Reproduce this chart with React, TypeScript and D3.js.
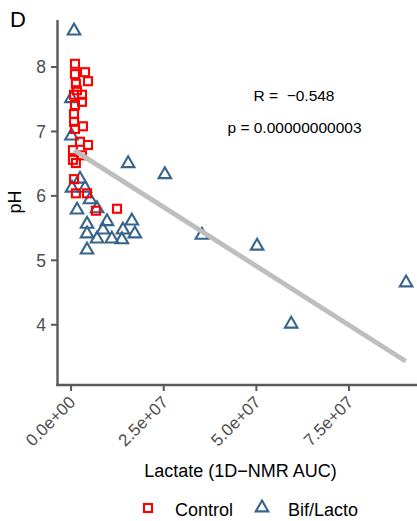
import React from "react";
import * as d3 from "d3";

// Control group (red squares): lactate AUC and pH
const controlLactate = [1.05e6, 3.76e6, 1.05e6, 4.57e6, 1.3e6, 1.6e6, 2.95e6, 0.8e6, 1.05e6, 2.95e6, 0.8e6, 0.8e6, 3.2e6, 1.05e6, 2.4e6, 4.57e6, 0.5e6, 2.95e6, 0.5e6, 1.3e6, 0.8e6, 1.3e6, 4.3e6, 6.7e6, 12.4e6];
const controlPH = [8.05, 7.92, 7.89, 7.78, 7.74, 7.64, 7.57, 7.57, 7.41, 7.46, 7.27, 7.15, 7.08, 7.04, 6.84, 6.79, 6.71, 6.63, 6.56, 6.51, 6.26, 6.04, 6.04, 5.77, 5.8];

// Bif/Lacto group (blue triangles)
const bifLactate = [0.79e6, 0.1e6, 0.1e6, 0.25e6, 2.4e6, 3.76e6, 5.1e6, 1.6e6, 7.0e6, 4.3e6, 9.7e6, 4.3e6, 8.6e6, 7.0e6, 11.0e6, 13.7e6, 14.0e6, 16.4e6, 17.2e6, 4.3e6, 15.4e6, 25.3e6, 35.3e6, 50.2e6, 59.4e6, 90.4e6];
const bifPH = [8.59, 7.54, 6.96, 6.15, 6.29, 6.15, 5.97, 5.81, 5.83, 5.59, 5.63, 5.44, 5.5, 5.36, 5.36, 5.35, 5.5, 5.64, 5.44, 5.19, 6.53, 6.36, 5.42, 5.25, 4.04, 4.68];

// Linear fit
const fitIntercept = 6.74;
const fitSlope = -3.66e-8;
const fitRange = [0.8e6, 90.3e6];

const xTicks = [0, 2.5e7, 5e7, 7.5e7];
const xTickLabels = ["0.0e+00", "2.5e+07", "5.0e+07", "7.5e+07"];
const yTicks = [4, 5, 6, 7, 8];
const legendLabels = ["Control", "Bif/Lacto"];

const W = 417;
const H = 521;
const FONT = "'Liberation Sans', Arial, Helvetica, sans-serif";
const AXIS = "#595959";
const RED = "#FF0000";
const BLUE = "#36648B";

export default function App() {
  const x = d3.scaleLinear().domain([-3.8e6, 9.2e7]).range([57, 412]);
  const y = d3.scaleLinear().domain([3.065, 8.73]).range([385, 20]);

  const sq = 8;
  const ts = 12.5;
  const th = (ts * Math.sqrt(3)) / 2;
  const triPath = (cx: number, cy: number) =>
    `M${cx},${cy - th / 2}L${cx + ts / 2},${cy + th / 2}L${cx - ts / 2},${cy + th / 2}Z`;

  const line = d3
    .line<number>()
    .x((d) => x(d))
    .y((d) => y(fitIntercept + fitSlope * d));

  return (
    <svg width={W} height={H} style={{ position: "absolute", left: 0, top: 0, background: "#fff" }} fontFamily={FONT}>
      <rect width={W} height={H} fill="#fff" />
      <text x={10} y={27} fontSize={22} fill="#000">D</text>

      {/* triangles */}
      {bifLactate.map((d, i) => (
        <path key={"t" + i} d={triPath(x(d), y(bifPH[i]))} fill="none" stroke={BLUE} strokeWidth={2.1} />
      ))}
      {/* squares */}
      {controlLactate.map((d, i) => (
        <rect key={"s" + i} x={x(d) - sq / 2} y={y(controlPH[i]) - sq / 2} width={sq} height={sq} fill="none" stroke={RED} strokeWidth={2.1} />
      ))}
      {/* fit */}
      <path d={line(fitRange) || ""} fill="none" stroke="#BEBEBE" strokeWidth={4.8} />

      {/* annotations */}
      <text x={294} y={101} fontSize={15.5} textAnchor="middle" fill="#000">{"R =\u00A0 −0.548"}</text>
      <text x={294.5} y={133} fontSize={15.5} textAnchor="middle" fill="#000">p = 0.00000000003</text>

      {/* axes */}
      <line x1={57.5} x2={57.5} y1={20} y2={386} stroke={AXIS} strokeWidth={2.4} />
      <line x1={56.3} x2={417} y1={385} y2={385} stroke={AXIS} strokeWidth={2.4} />
      {yTicks.map((t) => (
        <g key={"yt" + t}>
          <line x1={51} x2={57} y1={y(t)} y2={y(t)} stroke={AXIS} strokeWidth={2} />
          <text x={46} y={y(t)} dy="0.36em" fontSize={17.5} textAnchor="end" fill="#4D4D4D">{t}</text>
        </g>
      ))}
      {xTicks.map((t, i) => (
        <g key={"xt" + t}>
          <line x1={x(t)} x2={x(t)} y1={385} y2={391} stroke={AXIS} strokeWidth={2} />
          <text transform={`translate(${x(t) - 3},${395}) rotate(-45)`} fontSize={17} textAnchor="end" dy="0.7em" fill="#4D4D4D">{xTickLabels[i]}</text>
        </g>
      ))}
      <text x={240.5} y={477} fontSize={18} textAnchor="middle" fill="#000">Lactate (1D−NMR AUC)</text>
      <text transform={`translate(21,202) rotate(-90)`} fontSize={18} textAnchor="middle" fill="#000">pH</text>

      {/* legend */}
      <rect x={148 - sq / 2} y={508 - sq / 2} width={sq} height={sq} fill="none" stroke={RED} strokeWidth={2.1} />
      <text x={175} y={516} fontSize={18} fill="#000">{legendLabels[0]}</text>
      <path d={triPath(262, 506)} fill="none" stroke={BLUE} strokeWidth={2.1} />
      <text x={288} y={516} fontSize={18} fill="#000">{legendLabels[1]}</text>
    </svg>
  );
}
